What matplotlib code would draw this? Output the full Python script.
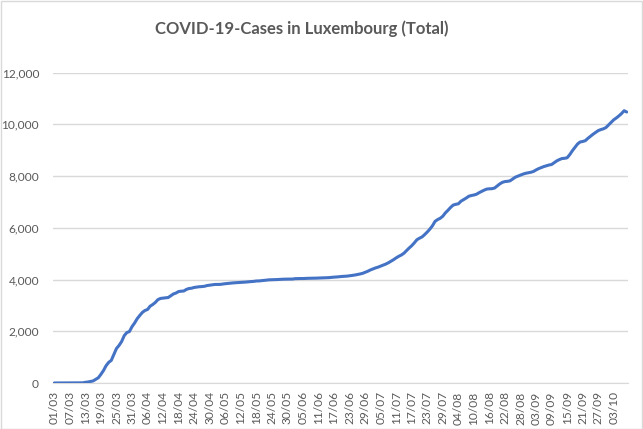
import numpy as np
import pandas as pd
import matplotlib
matplotlib.use("Agg")
import matplotlib.pyplot as plt
from matplotlib.patches import Rectangle

# total cases per day (01/03 .. 08/10)
cases = [1, 1, 1, 2, 2, 3, 4, 5, 5, 5, 7, 7, 26, 38, 59, 81, 140, 203, 335, 484,
         670, 798, 875, 1099, 1333, 1453, 1605, 1831, 1950, 1988, 2178, 2319, 2487, 2612, 2729, 2804, 2843, 2970, 3034, 3115,
         3223, 3270, 3281, 3292, 3307, 3373, 3444, 3480, 3537, 3550, 3558, 3618, 3654, 3665, 3695, 3711, 3723, 3729, 3741, 3769,
         3784, 3802, 3811, 3812, 3813, 3828, 3840, 3851, 3859, 3871, 3877, 3886, 3888, 3894, 3904, 3915, 3923, 3930, 3945, 3947,
         3958, 3971, 3980, 3990, 3993, 3995, 4000, 4008, 4012, 4016, 4018, 4019, 4020, 4035, 4039, 4040, 4040, 4046, 4049, 4050,
         4052, 4055, 4059, 4065, 4070, 4070, 4075, 4085, 4094, 4100, 4111, 4120, 4125, 4133, 4145, 4160, 4175, 4195, 4215, 4240,
         4280, 4320, 4370, 4410, 4450, 4480, 4520, 4560, 4600, 4650, 4710, 4770, 4840, 4900, 4950, 5020, 5120, 5220, 5310, 5420,
         5540, 5600, 5650, 5740, 5840, 5950, 6080, 6250, 6320, 6370, 6450, 6580, 6680, 6790, 6880, 6910, 6930, 7030, 7090, 7150,
         7220, 7250, 7270, 7300, 7360, 7410, 7460, 7500, 7510, 7515, 7540, 7620, 7700, 7760, 7790, 7800, 7820, 7890, 7960, 8000,
         8040, 8080, 8110, 8130, 8150, 8180, 8240, 8290, 8330, 8370, 8400, 8430, 8450, 8520, 8590, 8640, 8680, 8690, 8710, 8830,
         8980, 9110, 9240, 9320, 9340, 9370, 9460, 9540, 9620, 9690, 9760, 9800, 9830, 9880, 9980, 10080, 10180, 10250, 10330, 10420,
         10530, 10480]

start_date = "2020-03-01"
dates = pd.date_range(start_date, periods=len(cases), freq="D").strftime("%d/%m").tolist()
label_step = 6
title = "COVID-19-Cases in Luxembourg (Total)"

plt.rcParams['font.family'] = ['Lato', 'DejaVu Sans']
grey = "#595959"

fig = plt.figure(figsize=(6.43, 4.29), dpi=100)
ax = fig.add_axes([53 / 643, 1 - 383 / 429, (628 - 53) / 643, (383 - 72.7) / 429])

x = np.arange(len(cases))
ax.plot(x, cases, color="#4472C4", linewidth=2.2, solid_capstyle="round", zorder=3)

ax.set_xlim(-0.5, len(cases) - 0.5)
ax.set_ylim(0, 12000)
ax.set_yticks(np.arange(0, 12001, 2000))
ax.yaxis.set_major_formatter(matplotlib.ticker.FuncFormatter(lambda v, p: f"{int(v):,}"))
ax.set_xticks(x[::label_step])
ax.set_xticklabels(dates[::label_step], rotation=90)

ax.grid(axis="y", color="#d9d9d9", linewidth=1)
ax.set_axisbelow(True)
for s in ["top", "right", "left"]:
    ax.spines[s].set_visible(False)
ax.spines["bottom"].set_color("#d9d9d9")
ax.tick_params(axis="both", length=0, labelsize=8.6, colors=grey)
ax.tick_params(axis="x", pad=6)
ax.tick_params(axis="y", pad=10)

fig.text(302 / 643, 1 - 29 / 429, title, ha="center", va="center",
         fontsize=12, fontweight="bold", color=grey)

# chart border
fig.patches.append(Rectangle((0.001, 0.001), 0.997, 0.997, transform=fig.transFigure,
                             fill=False, edgecolor="#d9d9d9", linewidth=1))

fig.savefig("out.png", dpi=100)
